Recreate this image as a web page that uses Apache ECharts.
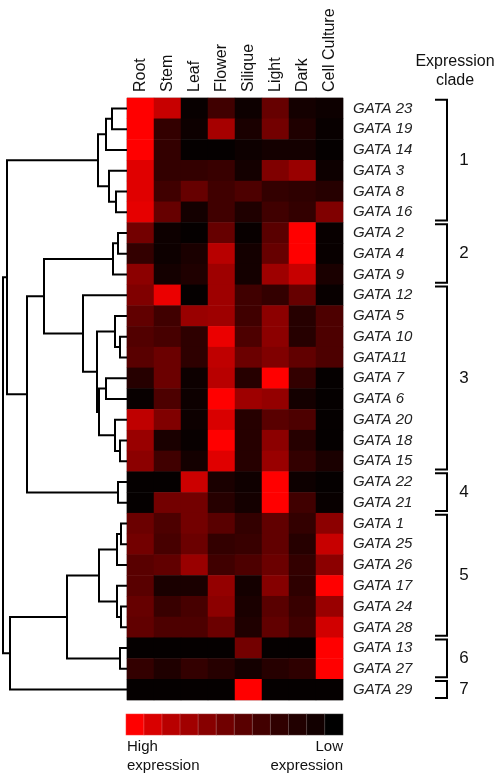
<!DOCTYPE html>
<html>
<head>
<meta charset="utf-8">
<script src="https://cdn.jsdelivr.net/npm/echarts@6.0.0/dist/echarts.min.js"></script>
<style>
html,body{margin:0;padding:0;background:#fff;}
#main{width:498px;height:775px;}
</style>
</head>
<body>
<div id="main"></div>
<script>
// ---- DATA ----
const tissues = ['Root','Stem','Leaf','Flower','Silique','Light','Dark','Cell Culture'];
const genes = ['GATA 23','GATA 19','GATA 14','GATA 3','GATA 8','GATA 16',
  'GATA 2','GATA 4','GATA 9',
  'GATA 12','GATA 5','GATA 10','GATA11','GATA 7','GATA 6','GATA 20','GATA 18','GATA 15',
  'GATA 22','GATA 21',
  'GATA 1','GATA 25','GATA 26','GATA 17','GATA 24','GATA 28',
  'GATA 13','GATA 27',
  'GATA 29'];
// relative expression (0 = low/black, 1 = high/red), one row per gene, columns = tissues
const expression = [
  [1.00,0.78,0.03,0.25,0.05,0.40,0.08,0.05],
  [1.00,0.20,0.05,0.65,0.10,0.45,0.12,0.03],
  [1.00,0.20,0.02,0.02,0.05,0.08,0.08,0.02],
  [0.88,0.20,0.20,0.22,0.08,0.50,0.60,0.05],
  [0.88,0.25,0.40,0.25,0.30,0.20,0.18,0.15],
  [0.90,0.40,0.08,0.25,0.12,0.25,0.20,0.50],
  [0.45,0.05,0.02,0.40,0.03,0.35,1.00,0.03],
  [0.20,0.05,0.10,0.72,0.08,0.40,1.00,0.03],
  [0.55,0.08,0.12,0.62,0.08,0.62,0.78,0.10],
  [0.50,0.92,0.02,0.62,0.25,0.20,0.40,0.03],
  [0.38,0.25,0.60,0.62,0.25,0.55,0.15,0.30],
  [0.32,0.28,0.18,0.92,0.30,0.55,0.15,0.30],
  [0.35,0.42,0.18,0.75,0.42,0.50,0.38,0.30],
  [0.15,0.42,0.05,0.72,0.15,1.00,0.20,0.02],
  [0.03,0.30,0.05,1.00,0.62,0.58,0.08,0.02],
  [0.75,0.50,0.05,0.85,0.15,0.35,0.30,0.02],
  [0.60,0.10,0.03,1.00,0.15,0.55,0.15,0.02],
  [0.55,0.25,0.08,0.88,0.15,0.60,0.20,0.10],
  [0.02,0.02,0.80,0.10,0.06,1.00,0.05,0.02],
  [0.02,0.45,0.45,0.15,0.08,1.00,0.25,0.03],
  [0.42,0.30,0.45,0.35,0.20,0.38,0.20,0.55],
  [0.45,0.28,0.42,0.20,0.22,0.38,0.15,0.78],
  [0.35,0.38,0.60,0.25,0.30,0.42,0.20,0.55],
  [0.35,0.10,0.10,0.58,0.08,0.52,0.18,1.00],
  [0.40,0.22,0.28,0.55,0.10,0.35,0.22,0.60],
  [0.38,0.30,0.30,0.42,0.12,0.38,0.25,0.82],
  [0.02,0.02,0.02,0.02,0.45,0.02,0.02,1.00],
  [0.20,0.12,0.20,0.15,0.08,0.15,0.18,1.00],
  [0.02,0.02,0.02,0.02,1.00,0.02,0.02,0.02]
];
// hierarchical clustering merges: [childA, childB, height]; leaves 0..28, new nodes numbered from 29
const merges = [
  [0,1,15],[29,2,21],[4,5,11],[3,31,18],[30,32,29],
  [6,7,9],[34,8,14],
  [11,12,7],[10,36,12],[13,14,21],[16,17,7],[15,39,12],[38,40,28],[37,41,30],[9,42,44],
  [35,43,83],
  [18,19,9],
  [44,45,100],
  [33,46,120],
  [20,21,6],[48,22,10],[24,25,6],[23,50,10],[49,51,28],
  [26,27,7],
  [52,53,60],
  [54,28,117],
  [47,55,124]
];
// expression clades: [first row, row after last, label]
const clades = [[0,6,'1'],[6,9,'2'],[9,18,'3'],[18,20,'4'],[20,26,'5'],[26,28,'6'],[28,29,'7']];
// colour scale legend steps (high -> low)
const legendLevels = [1.0,0.85,0.72,0.63,0.53,0.44,0.35,0.26,0.19,0.13,0.07,0.0];

// ---- BUILD ----
const heatData = [];
expression.forEach((row,i)=>row.forEach((v,j)=>heatData.push([j,i,v])));

const nodes = [];
genes.forEach((g,i)=>{ nodes[i] = {h:0, y:i+0.5}; });
const dendroLines = [];
merges.forEach(([a,b,h],k)=>{
  const A = nodes[a], B = nodes[b];
  nodes[genes.length+k] = {h:h, y:(A.y+B.y)/2};
  dendroLines.push({coords:[[A.h,A.y],[h,A.y],[h,B.y],[B.h,B.y]]});
});
const legendData = legendLevels.map((v,i)=>[i,0,v]);

const FONT = '"Liberation Sans", Arial, sans-serif';
const chart = echarts.init(document.getElementById('main'), null, {renderer:'canvas'});
chart.setOption({
  animation:false,
  backgroundColor:'#fff',
  textStyle:{fontFamily:FONT},
  grid:[
    {left:127, top:98, width:216, height:602, show:true, borderColor:'#b0b0b0', borderWidth:1, backgroundColor:'transparent'},
    {left:0, top:98, width:127, height:602},
    {left:430, top:98, width:50, height:602},
    {left:126, top:714, width:217, height:21}
  ],
  xAxis:[
    {type:'category', gridIndex:0, data:tissues, position:'top',
     axisLine:{show:false}, axisTick:{show:false},
     axisLabel:{rotate:-90, margin:6, fontSize:16, color:'#111', fontFamily:FONT}},
    {type:'value', gridIndex:1, min:0, max:127, inverse:true, show:false},
    {type:'value', gridIndex:2, min:0, max:50, show:false},
    {type:'category', gridIndex:3, data:legendLevels.map((v,i)=>String(i)), show:false}
  ],
  yAxis:[
    {type:'category', gridIndex:0, data:genes, inverse:true, position:'right',
     axisLine:{show:false}, axisTick:{show:false},
     axisLabel:{margin:10, fontSize:15, fontStyle:'italic', color:'#222', fontFamily:FONT}},
    {type:'value', gridIndex:1, min:0, max:29, inverse:true, show:false},
    {type:'value', gridIndex:2, min:0, max:29, inverse:true, show:false},
    {type:'category', gridIndex:3, data:['0'], show:false}
  ],
  visualMap:[{
    type:'continuous', show:false, min:0, max:1, seriesIndex:[0,3],
    inRange:{color:['#000000','#ff0000']}
  }],
  series:[
    {type:'heatmap', xAxisIndex:0, yAxisIndex:0, data:heatData, silent:true,
     itemStyle:{borderWidth:0}, emphasis:{disabled:true}},
    {type:'lines', coordinateSystem:'cartesian2d', xAxisIndex:1, yAxisIndex:1,
     polyline:true, silent:true, data:dendroLines,
     lineStyle:{color:'#000', width:2, opacity:1}},
    {type:'custom', xAxisIndex:2, yAxisIndex:2, data:clades, silent:true,
     renderItem:function(params, api){
       const s = api.value(0), e = api.value(1);
       const p1 = api.coord([5, s+0.08]);
       const p2 = api.coord([17, s+0.08]);
       const p3 = api.coord([17, e-0.1]);
       const p4 = api.coord([5, e-0.1]);
       const pt = api.coord([34, (s+e)/2]);
       return {type:'group', children:[
         {type:'polyline', shape:{points:[p1,p2,p3,p4]}, style:{stroke:'#000', lineWidth:2, fill:null}},
         {type:'text', x:pt[0], y:pt[1], style:{text:clades[params.dataIndex][2], fill:'#111', fontSize:17, fontFamily:FONT, align:'center', verticalAlign:'middle'}}
       ]};
     }},
    {type:'heatmap', xAxisIndex:3, yAxisIndex:3, data:legendData, silent:true,
     itemStyle:{borderColor:'rgba(255,255,255,0.35)', borderWidth:0.6}, emphasis:{disabled:true}}
  ],
  graphic:[
    {type:'text', x:455, y:62, style:{text:'Expression', fontSize:16, fill:'#111', fontFamily:FONT, align:'center', verticalAlign:'middle'}},
    {type:'text', x:455, y:81, style:{text:'clade', fontSize:16, fill:'#111', fontFamily:FONT, align:'center', verticalAlign:'middle'}},
    {type:'text', x:127, y:747, style:{text:'High', fontSize:15, fill:'#111', fontFamily:FONT, align:'left', verticalAlign:'middle'}},
    {type:'text', x:127, y:766, style:{text:'expression', fontSize:15, fill:'#111', fontFamily:FONT, align:'left', verticalAlign:'middle'}},
    {type:'text', x:343, y:747, style:{text:'Low', fontSize:15, fill:'#111', fontFamily:FONT, align:'right', verticalAlign:'middle'}},
    {type:'text', x:343, y:766, style:{text:'expression', fontSize:15, fill:'#111', fontFamily:FONT, align:'right', verticalAlign:'middle'}}
  ]
});
</script>
</body>
</html>
